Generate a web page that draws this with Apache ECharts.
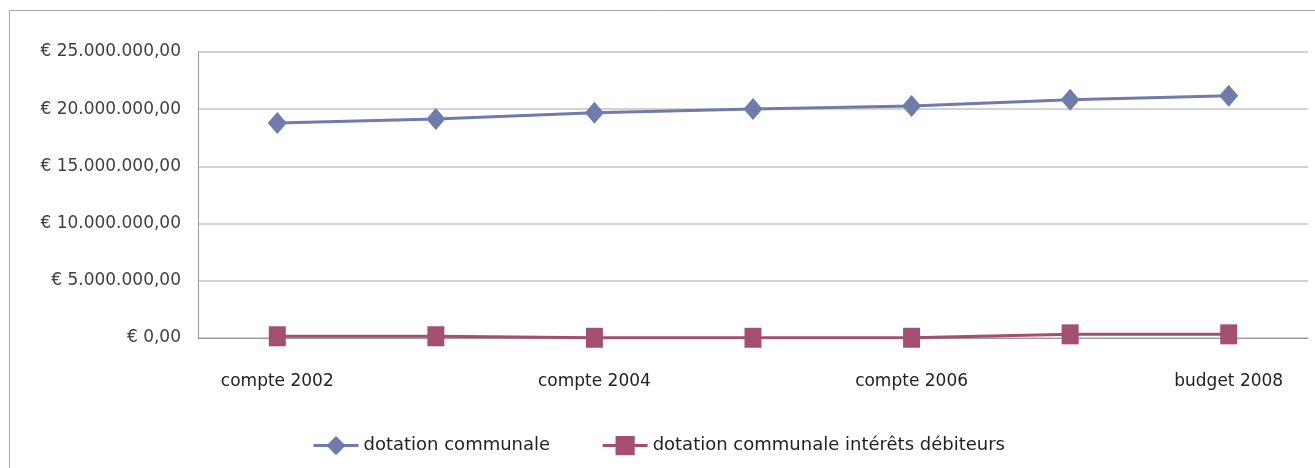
<!DOCTYPE html>
<html>
<head>
<meta charset="utf-8">
<script src="https://cdn.jsdelivr.net/npm/echarts@6/dist/echarts.min.js"></script>
<style>
  html, body { margin: 0; padding: 0; background: #fff; }
  #chart { width: 1315px; height: 468px; }
</style>
</head>
<body>
<div id="chart"></div>
<script>
// categories on the x axis
const categories = ["compte 2002", "compte 2003", "compte 2004", "compte 2005", "compte 2006", "compte 2007", "budget 2008"];
// dotation communale (€)
const dotation = [18790000, 19140000, 19690000, 20010000, 20290000, 20820000, 21180000];
// dotation communale intérêts débiteurs (€)
const interets = [150000, 150000, 20000, 20000, 20000, 320000, 320000];

const seriesNames = ["dotation communale", "dotation communale intérêts débiteurs"];
const colors = ["#6E7BAB", "#A24F72"];

// format like "€ 25.000.000,00"
function euro(v) {
  const s = Math.round(v).toString().replace(/\B(?=(\d{3})+(?!\d))/g, ".");
  return "€ " + s + ",00";
}

const chart = echarts.init(document.getElementById("chart"));

const option = {
  animation: false,
  backgroundColor: "#fff",
  color: colors,
  graphic: [
    {
      type: "rect",
      shape: { x: 9.5, y: 10.5, width: 1400, height: 500 },
      style: { fill: "none", stroke: "#a6a6a6", lineWidth: 1 },
      silent: true,
    },
  ],
  grid: { left: 198, right: 7, top: 52, bottom: 130 },
  legend: {
    left: 307,
    top: 431,
    itemWidth: 45,
    itemHeight: 24,
    itemGap: 51,
    lineStyle: { width: 3 },
    textStyle: { fontFamily: "DejaVu Sans", fontSize: 18, color: "#222" },
    data: seriesNames,
  },
  xAxis: {
    type: "category",
    data: categories,
    boundaryGap: true,
    axisLine: { lineStyle: { color: "#9a9a9a", width: 1 } },
    axisTick: { show: false },
    axisLabel: {
      interval: 1,
      margin: 35,
      fontFamily: "DejaVu Sans",
      fontSize: 17,
      color: "#222",
    },
  },
  yAxis: {
    type: "value",
    min: 0,
    max: 25000000,
    interval: 5000000,
    axisLine: { show: true, lineStyle: { color: "#9a9a9a", width: 1 } },
    axisTick: { show: false },
    splitLine: { lineStyle: { color: "#c4c4c4", width: 1.5 } },
    axisLabel: {
      margin: 17,
      padding: [4, 0, 0, 0],
      fontFamily: "DejaVu Sans",
      fontSize: 17,
      color: "#404040",
      formatter: euro,
    },
  },
  series: [
    {
      name: seriesNames[0],
      type: "line",
      data: dotation,
      symbol: "diamond",
      symbolSize: [19, 22],
      showAllSymbol: true,
      lineStyle: { width: 3, color: colors[0] },
      itemStyle: { color: colors[0] },
    },
    {
      name: seriesNames[1],
      type: "line",
      data: interets,
      symbol: "rect",
      symbolSize: [17, 20],
      showAllSymbol: true,
      lineStyle: { width: 3, color: colors[1] },
      itemStyle: { color: colors[1] },
    },
  ],
};

chart.setOption(option);
</script>
</body>
</html>
